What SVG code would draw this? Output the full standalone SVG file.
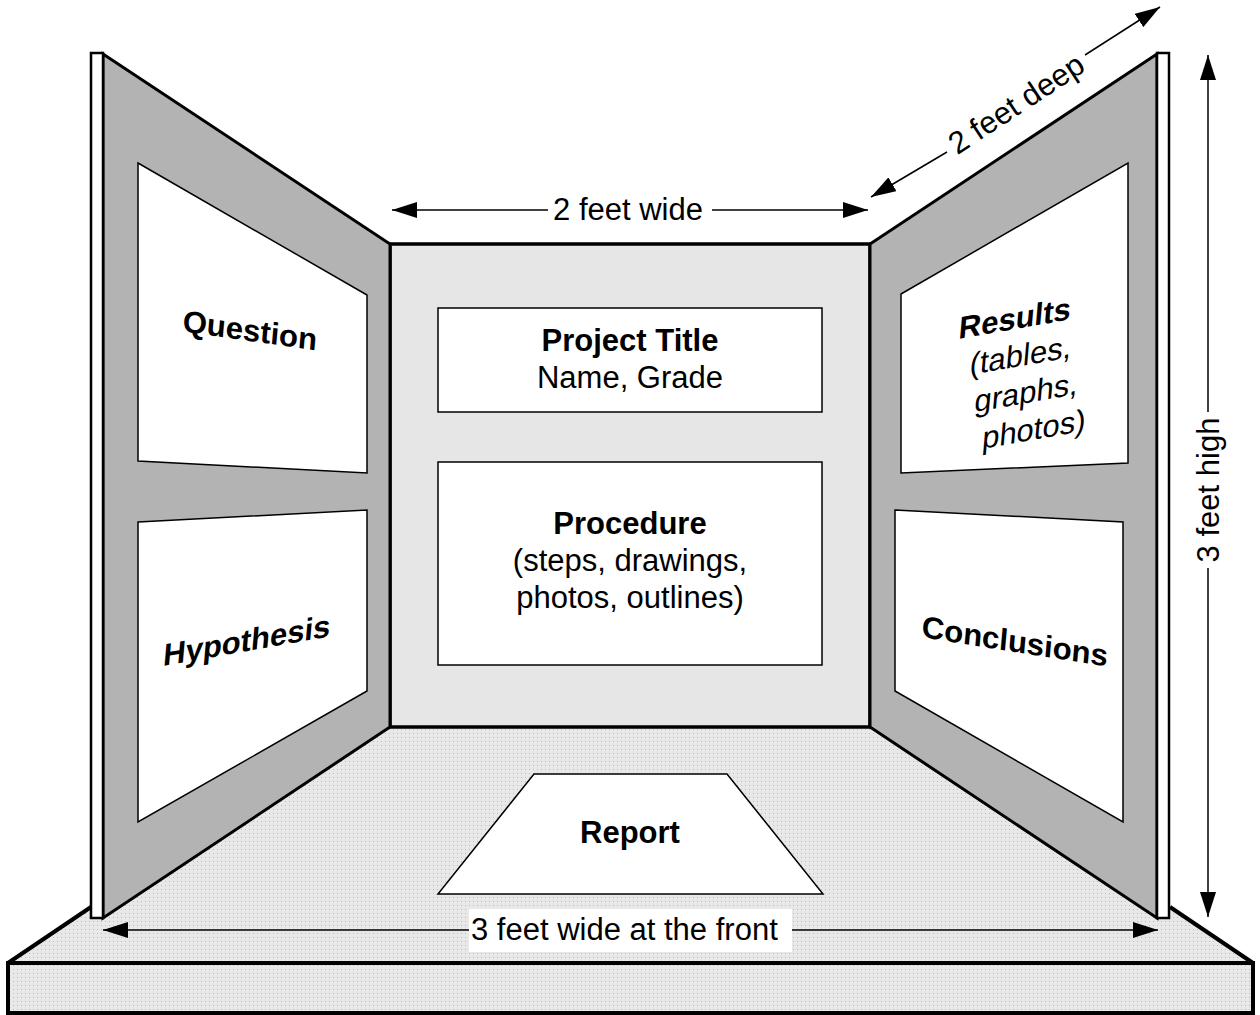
<svg xmlns="http://www.w3.org/2000/svg" width="1260" height="1015" viewBox="0 0 1260 1015">
<defs>
<pattern id="dots" width="4" height="4" patternUnits="userSpaceOnUse">
<rect width="4" height="4" fill="#e8e8e8"/>
<rect x="1" y="1" width="1" height="1" fill="#bcbcbc"/>
</pattern>
<marker id="arr" viewBox="0 0 25 16" refX="25" refY="8" markerWidth="25" markerHeight="16" markerUnits="userSpaceOnUse" orient="auto">
<path d="M0,0 L25,8 L0,16 z" fill="#000"/>
</marker>
</defs>
<style>
text{font-family:"Liberation Sans",Arial,sans-serif;font-size:31px;fill:#000}
.b{font-weight:bold}
.wing{fill:#b3b3b3;stroke:#000;stroke-width:3;stroke-linejoin:miter}
.strip{fill:#fff;stroke:#000;stroke-width:2.5}
.card{fill:#fff;stroke:#000;stroke-width:1.5}
.dim{fill:none;stroke:#000;stroke-width:1.5;marker-end:url(#arr)}
</style>
<rect width="1260" height="1015" fill="#fff"/>
<g id="base">
<polygon points="8,963 91,907 91,700 1170,700 1170,907 1253,963" fill="url(#dots)"/>
<rect x="8" y="963" width="1245" height="50" fill="url(#dots)" stroke="#000" stroke-width="4"/>
<path d="M8,963 L91,907 M1170,907 L1253,963" stroke="#000" stroke-width="4" fill="none"/>
</g>
<g id="center-panel">
<rect x="390" y="244" width="480" height="483" fill="#e6e6e6" stroke="#000" stroke-width="3.5"/>
</g>
<g id="left-panel">
<polygon class="wing" points="103,54 390,244 390,727 103,918"/>
<rect class="strip" x="91" y="53" width="12" height="865"/>
</g>
<g id="right-panel">
<polygon class="wing" points="1157,54 870,244 870,727 1157,918"/>
<rect class="strip" x="1157" y="53" width="12" height="865"/>
</g>
<g id="question">
<polygon class="card" points="138,163 367,295 367,473 138,461"/>
<text class="b" transform="translate(250,330) skewY(8) skewX(-5)" x="0" y="11" text-anchor="middle">Question</text>
</g>
<g id="hypothesis">
<polygon class="card" points="138,522 367,510 367,691 138,822"/>
<text class="b" transform="translate(247,640) skewY(-10) skewX(-5)" x="0" y="11" text-anchor="middle">Hypothesis</text>
</g>
<g id="results">
<polygon class="card" points="901,294 1128,163 1128,463 901,473"/>
<g transform="translate(1015,318) skewY(-10) skewX(-5)">
<text class="b" x="0" y="11" text-anchor="middle">Results</text>
<text x="9" y="49" text-anchor="middle">(tables,</text>
<text x="18" y="87" text-anchor="middle">graphs,</text>
<text x="29" y="125" text-anchor="middle">photos)</text>
</g>
</g>
<g id="conclusions">
<polygon class="card" points="895,510 1123,522 1123,822 895,691"/>
<text class="b" transform="translate(1015,641) skewY(9) skewX(-5)" x="0" y="11" text-anchor="middle">Conclusions</text>
</g>
<g id="project-title">
<rect class="card" x="438" y="308" width="384" height="104"/>
<text class="b" x="630" y="351" text-anchor="middle">Project Title</text>
<text x="630" y="388" text-anchor="middle">Name, Grade</text>
</g>
<g id="procedure">
<rect class="card" x="438" y="462" width="384" height="203"/>
<text class="b" x="630" y="534" text-anchor="middle">Procedure</text>
<text x="630" y="571" text-anchor="middle">(steps, drawings,</text>
<text x="630" y="608" text-anchor="middle">photos, outlines)</text>
</g>
<g id="report">
<polygon class="card" points="534,774 727,774 823,894 438,894"/>
<text class="b" x="630" y="843" text-anchor="middle">Report</text>
</g>
<g id="connectors">
<path class="dim" d="M548,210 L392,210"/>
<path class="dim" d="M712,210 L868,210"/>
<text x="628" y="220" text-anchor="middle">2 feet wide</text>
<path class="dim" d="M947,152 L871,197"/>
<path class="dim" d="M1085,55 L1160,7"/>
<text transform="translate(1016,103.5) rotate(-33.3)" x="0" y="11" text-anchor="middle">2 feet deep</text>
<path class="dim" d="M1208,412 L1208,55"/>
<path class="dim" d="M1208,568 L1208,917"/>
<text transform="translate(1208,490) rotate(-90)" x="0" y="11" text-anchor="middle">3 feet high</text>
<path class="dim" d="M469,930 L103,930"/>
<path class="dim" d="M792,930 L1158,930"/>
<rect x="469" y="909" width="323" height="43" fill="#fff"/>
<text x="471" y="940">3 feet wide at the front</text>
</g>
</svg>
